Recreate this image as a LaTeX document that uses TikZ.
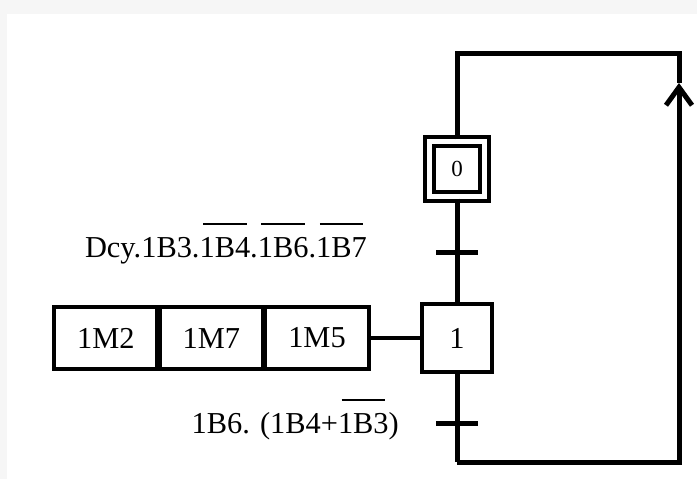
\documentclass[tikz,border=0pt]{standalone}
\usepackage{fontspec}
\setmainfont{Liberation Serif}
\usetikzlibrary{arrows.meta,positioning}
\newcommand\negsig[1]{\setbox0\hbox{#1}\rlap{\hspace{0.12em}\raisebox{1.05em}{\rule{\dimexpr\wd0-0.24em\relax}{0.07em}}}\box0}
\begin{document}
\begin{tikzpicture}[x=0.5pt,y=-0.5pt,line width=2.2pt,
  every node/.style={font=\fontsize{15.2}{18}\selectfont,inner sep=0pt},
  stepbox/.style={draw,minimum width=35pt,minimum height=34pt},
  initbox/.style={draw,double,double distance=2.5pt,minimum size=27.5pt,font=\fontsize{11.5}{13}\selectfont},
  actbox/.style={draw,outer sep=0pt,minimum width=51.8pt,minimum height=31pt},
  tick/.style={line width=2.5pt}]
\fill[gray!7] (0,0) rectangle (697,479);
\fill[white] (7,14) rectangle (697,479);
\useasboundingbox (0,0) rectangle (697,479);
% steps
\node[initbox] (s0) at (457,169) {0};
\node[stepbox] (s1) at (457,338) {1};
% actions of step 1
\node[actbox] (a3) at (317,338) {1M5};
\node[actbox,left=1pt of a3] (a2) {1M7};
\node[actbox,left=1pt of a2] (a1) {1M2};
\draw (a3.east) -- (s1.west);
% corners of the return loop
\coordinate (tl) at (457,53);
\coordinate (tr) at (679,53);
\coordinate (br) at (679,462);
\coordinate (bl) at (457,462);
\coordinate (ra) at (679,83);
\draw[line width=2.5pt] (s0.north) -- (tl) -- (tr) -- (ra);
\draw[line width=2.5pt,-{Straight Barb[length=9pt,width=13pt]}] (bl) -- (br) -- (ra);
\draw[line width=2.5pt] (s0.south) -- (s1.north);
\draw[line width=2.5pt] (s1.south) -- (bl);
% transitions
\coordinate (t1) at (457,252);
\coordinate (t2) at (457,423);
\draw[tick] (t1) ++(-21,0) -- ++(42,0);
\draw[tick] (t2) ++(-21,0) -- ++(42,0);
\node[anchor=base east] (c1) at (369,257) {Dcy.1B3.\negsig{1B4}.\negsig{1B6}.\negsig{1B7}};
\node[anchor=base east] (c2) at (401,433) {1B6. (1B4+\negsig{1B3})};
\end{tikzpicture}
\end{document}
